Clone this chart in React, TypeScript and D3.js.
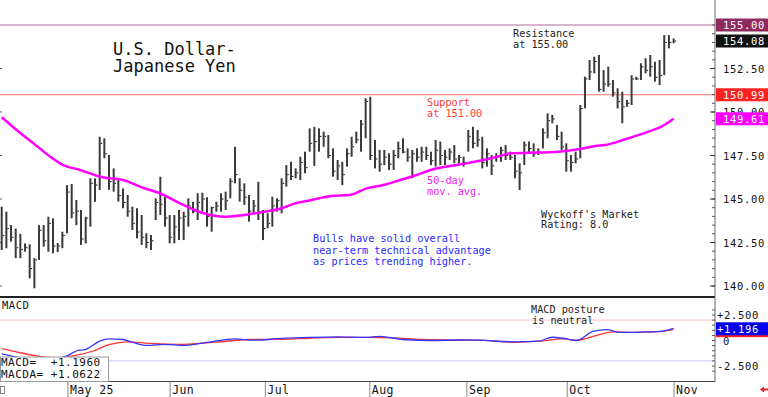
import React from "react";
import * as d3 from "d3";

// daily bars (0-based index)
const highs = [
  144.56, 144.27, 143.5, 143.3, 143.0, 142.45, 142.4, 141.6, 143.5, 143.5, 143.98, 143.89, 142.47, 143.12, 145.8,
  145.86, 144.94, 144.37, 143.98, 146.19, 146.19, 148.58, 148.49, 147.53, 146.76, 146.19, 145.61, 145.23, 144.56,
  144.47, 144.08, 143.03, 142.93, 145.04, 146.28, 145.13, 144.08, 144.08, 144.37,
  144.27, 145.04, 144.84, 145.33, 145.36, 145.1, 144.56, 144.84, 145.33, 145.42, 146.19, 148.0, 146.19, 145.9,
  145.23, 144.94, 145.99, 144.37, 144.18, 145.13, 145.04, 146.19, 146.95, 147.14, 146.76, 147.43, 147.72, 149.06,
  149.15, 149.06, 148.87, 148.68, 147.91, 147.24, 147.14, 147.91, 148.58,
  148.87, 149.54, 150.79, 150.88, 148.39, 147.82, 147.82, 147.63, 147.82, 148.3, 148.49, 147.91, 147.82, 147.91,
  148.0, 148.0, 147.72, 148.39, 148.3, 147.82, 147.91, 148.1, 147.53, 147.43, 148.97, 149.15, 148.97, 148.58,
  147.91, 147.53, 147.63, 148.0, 148.1, 147.72, 147.53, 147.05, 148.3,
  148.3, 148.2, 147.91, 149.06, 149.92, 149.83, 149.25, 148.87, 148.2, 147.53, 147.72, 150.4, 152.03, 152.99,
  153.18, 153.28, 152.41, 152.6, 151.84, 151.36, 151.17, 150.69, 152.12, 152.03, 152.8, 153.09, 153.28, 152.89,
  152.99, 154.42, 154.42, 154.23,
];
const lows = [
  142.07, 142.17, 142.55, 141.6, 141.6, 141.97, 140.44, 139.87, 141.5, 142.26, 141.97, 141.88, 141.95, 142.17, 143.03,
  143.89, 143.5, 142.36, 142.45, 143.41, 144.84, 145.52, 147.34, 145.52, 145.42, 144.85, 144.47, 143.98, 143.22,
  142.74, 142.36, 142.17, 142.07, 143.79, 144.08, 143.41, 142.45, 142.45, 142.64,
  142.64, 143.41, 144.18, 143.79, 144.27, 143.41, 143.12, 144.27, 144.27, 144.37, 145.04, 145.9, 144.85, 144.66,
  143.7, 144.18, 143.79, 142.64, 143.32, 143.41, 144.27, 144.18, 145.71, 146.09, 146.19, 146.09, 146.48, 147.72,
  146.9, 147.72, 148.0, 147.34, 146.28, 146.09, 145.8, 146.86, 147.43,
  148.2, 147.72, 148.49, 147.24, 146.76, 146.57, 146.95, 146.67, 146.67, 147.34, 147.63, 147.14, 146.19, 147.14,
  147.14, 147.24, 146.95, 146.86, 146.95, 146.95, 147.24, 147.05, 147.05, 146.86, 147.72, 147.91, 148.0, 146.76,
  146.86, 146.38, 147.14, 147.14, 147.24, 147.24, 146.19, 145.52, 146.95,
  147.63, 147.43, 147.53, 147.91, 148.49, 149.35, 148.39, 147.82, 146.57, 146.57, 147.05, 147.34, 150.21, 151.84,
  152.22, 151.17, 151.17, 151.45, 150.88, 150.21, 149.35, 150.3, 150.4, 151.84, 151.84, 152.22, 152.03, 151.74,
  151.55, 152.12, 153.66, 153.95,
];
const closes = [
  142.9, 143.3, 142.8, 142.2, 142.1, 142.2, 141.0, 141.5, 143.2, 142.6, 143.6, 142.3, 142.3, 142.9, 145.4,
  144.2, 144.3, 142.7, 143.9, 145.9, 145.8, 148.2, 147.6, 146.0, 145.9, 145.2, 144.8, 144.3, 143.6,
  143.1, 142.8, 142.5, 142.6, 144.8, 144.7, 143.9, 142.8, 143.4, 143.9,
  144.0, 144.6, 144.3, 144.8, 145.0, 144.0, 144.5, 144.6, 145.0, 144.9, 146.0, 146.4, 145.5, 145.1,
  144.3, 144.6, 144.2, 143.3, 143.6, 144.6, 144.9, 145.9, 146.4, 146.3, 146.5, 147.1, 146.8, 148.2,
  148.3, 148.6, 148.6, 147.5, 146.6, 146.9, 146.4, 147.6, 148.0,
  148.4, 149.3, 150.6, 147.5, 147.3, 147.0, 147.4, 147.0, 147.5, 147.9, 147.7, 147.4, 147.6, 147.4,
  147.7, 147.5, 147.2, 147.8, 147.5, 147.4, 147.7, 147.3, 147.4, 147.1, 148.6, 148.2, 148.4, 147.1,
  147.6, 146.9, 147.4, 147.8, 147.5, 147.4, 146.6, 146.5, 148.1,
  147.9, 147.6, 147.7, 148.8, 149.5, 149.6, 148.6, 148.0, 147.2, 147.1, 147.3, 150.2, 151.9, 152.3,
  152.9, 151.3, 151.6, 151.6, 151.1, 150.6, 150.3, 150.5, 151.9, 151.9, 152.6, 152.4, 152.6, 152.0,
  152.1, 154.0, 154.0, 154.08,
];

// 50-day moving average (bar index, value)
const maIdx = [0, 3.2, 6.8, 10.4, 13.2, 16.8, 21.1, 26.8, 29.6, 33.9, 38.2, 42.9, 47.9, 55, 60, 62.9, 65.7, 70.7,
  74.6, 78.2, 81.8, 85.4, 88.9, 92.5, 96.1, 99.7, 103.2, 106.8, 109, 113.2, 119.3, 123.6, 127.2, 129.3, 133.6,
  138.6, 141.4, 144];
const maVal = [149.7, 148.97, 148.2, 147.43, 146.95, 146.67, 146.28, 146.03, 145.71, 145.33, 144.75, 144.21, 143.98,
  144.21, 144.47, 144.75, 144.9, 145.17, 145.23, 145.61, 145.8, 146.09, 146.38, 146.71, 146.9, 147.05, 147.24,
  147.47, 147.63, 147.66, 147.72, 147.86, 148.05, 148.1, 148.43, 148.87, 149.16, 149.61];

// MACD (blue) and MACDA signal (red)
const macdIdx = [0, 4, 8, 11, 14, 16, 18, 21, 23, 26, 28, 31, 35, 39, 44, 50, 54, 60, 66, 72, 78, 81, 86, 92, 98,
  102, 110, 115, 118, 120.3, 123.3, 126.7, 129.7, 132.5, 136.8, 141, 144];
const macdVal = [-1.3, -1.7, -2.0, -1.9, -1.51, -1.03, -0.87, -0.07, 0.16, 0.1, -0.16, -0.48, -0.38, -0.48, -0.19,
  0.16, 0.03, 0.2, 0.3, 0.35, 0.3, 0.4, 0.1, 0.0, 0.05, 0.03, -0.13, -0.07, 0.32, 0.22, 0.0, 0.89, 1.06, 0.8,
  0.83, 0.89, 1.196];
const sigIdx = [0, 4, 8, 11, 14, 16.1, 19.6, 23.2, 26.9, 31.8, 38.9, 46, 53, 60, 66, 72, 78, 84, 90, 96, 102, 109.6,
  115.3, 120.3, 123.3, 127.6, 131, 135.3, 141, 144];
const sigVal = [-0.8, -1.2, -1.55, -1.7, -1.6, -1.44, -1.03, -0.38, -0.13, -0.29, -0.38, -0.16, 0.1, 0.12, 0.22,
  0.3, 0.3, 0.25, 0.1, 0.05, 0.03, -0.17, -0.07, 0.16, 0.03, 0.51, 0.84, 0.8, 0.87, 1.0622];

const priceLabels = [140, 142.5, 145, 147.5, 150, 152.5];
const macdLabels = [2.5, 0, -2.5];
const months = ["May 25", "Jun", "Jul", "Aug", "Sep", "Oct", "Nov"];
const monthIdx = [14.2, 36.1, 56.5, 78.9, 99.7, 121.2, 144.1];

const resistance = 155;
const support = 150.99;
const lastPrice = 154.08;
const lastMa = 149.61;
const lastMacd = 1.196;
const lastMacda = 1.0622;

const W = 768;
const H = 397;
const axisX = 715;
const mono = "'DejaVu Sans Mono', monospace";

export default function App() {
  const x = d3.scaleLinear().domain([0, 144]).range([1.7, 673.6]);
  const y = d3.scaleLinear().domain([140, 155]).range([286, 25]);
  const ym = d3.scaleLinear().domain([-2.5, 2.5]).range([366, 315]);

  const maLine = d3.line<number>()
    .x((d, i) => x(maIdx[i]))
    .y((d) => y(d))
    .curve(d3.curveMonotoneX);
  const macdLine = d3.line<number>()
    .x((d, i) => x(macdIdx[i]))
    .y((d) => ym(d))
    .curve(d3.curveMonotoneX);
  const sigLine = d3.line<number>()
    .x((d, i) => x(sigIdx[i]))
    .y((d) => ym(d))
    .curve(d3.curveMonotoneX);

  const minorTicks = d3.range(140, 155.01, 0.5);
  const macdMinor = d3.range(-3, 3.01, 0.5);

  const txt = (s: string, tx: number, ty: number, fill: string, size = 10.2, ls = 0) => (
    <text x={tx} y={ty} fill={fill} fontSize={size} fontFamily={mono} letterSpacing={ls}>{s}</text>
  );

  const box = (label: string, v: number, bg: string, sc: (n: number) => number, dy = 0) => (
    <g>
      <rect x={axisX + 1} y={sc(v) - 6.5 + dy} width={W - axisX - 1} height={13} fill={bg} />
      <text x={723} y={sc(v) + 4 + dy} fill="#fff" fontSize={10.5} fontFamily={mono} letterSpacing={0.7}>{label}</text>
    </g>
  );

  return (
    <svg width={W} height={H} style={{ position: "absolute", left: 0, top: 0, background: "#fff" }}>
      {/* reference lines */}
      <line x1={0} x2={axisX} y1={y(resistance)} y2={y(resistance)} stroke="#b06a98" strokeWidth={1} />
      <line x1={0} x2={axisX} y1={y(support)} y2={y(support)} stroke="#f27272" strokeWidth={1} />

      {/* left edge ticks */}
      {priceLabels.map((v) => (
        <line key={"lt" + v} x1={0} x2={2} y1={y(v)} y2={y(v)} stroke="#555" />
      ))}

      {/* OHLC bars */}
      {highs.map((h, i) => (
        <g key={"b" + i}>
          <line x1={x(i)} x2={x(i)} y1={y(h)} y2={y(lows[i])} stroke="#3a3a3a" strokeWidth={2} />
          <line x1={x(i) + 1} x2={x(i) + 2.5} y1={y(closes[i])} y2={y(closes[i])} stroke="#111" strokeWidth={1} />
        </g>
      ))}

      {/* 50-day MA */}
      <path d={maLine(maVal) || ""} fill="none" stroke="#ff00ff" strokeWidth={2.5} />

      {/* annotations */}
      {txt("U.S. Dollar-", 113, 55, "#111", 17)}
      {txt("Japanese Yen", 113, 72, "#111", 17)}
      {txt("Resistance", 513, 37, "#222")}
      {txt("at 155.00", 513, 47.5, "#222")}
      {txt("Support", 427, 106, "#ff3a3a")}
      {txt("at 151.00", 427, 117, "#ff3a3a")}
      {txt("50-day", 427, 184, "#ee22ee")}
      {txt("mov. avg.", 427, 195, "#ee22ee")}
      {txt("Wyckoff's Market", 541, 217.5, "#222")}
      {txt("Rating: 8.0", 541, 228, "#222")}
      {txt("Bulls have solid overall", 313, 242, "#2a2aff")}
      {txt("near-term technical advantage", 313, 253.5, "#2a2aff")}
      {txt("as prices trending higher.", 313, 264.5, "#2a2aff")}

      {/* panel separators */}
      <line x1={0} x2={axisX} y1={297} y2={297} stroke="#222" strokeWidth={2} />
      <line x1={0} x2={axisX} y1={381.5} y2={381.5} stroke="#444" strokeWidth={1} />
      <line x1={axisX} x2={axisX} y1={0} y2={382} stroke="#666" strokeWidth={1} />

      {/* price axis */}
      {minorTicks.map((v) => (
        <line key={"mt" + v} x1={axisX - 3} x2={axisX} y1={y(v)} y2={y(v)} stroke="#555" />
      ))}
      {priceLabels.map((v) => (
        <g key={"pl" + v}>
          <line x1={axisX - 5} x2={axisX} y1={y(v)} y2={y(v)} stroke="#333" />
          <text x={723} y={y(v) + 4} fill="#111" fontSize={10.5} fontFamily={mono} letterSpacing={0.7}>
            {v.toFixed(2)}
          </text>
        </g>
      ))}
      {box(resistance.toFixed(2), resistance, "#8e2a5c", y)}
      {box(lastPrice.toFixed(2), lastPrice, "#111", y)}
      {box(support.toFixed(2), support, "#ff2222", y)}
      {box(lastMa.toFixed(2), lastMa, "#ff00ff", y)}

      {/* MACD panel */}
      {txt("MACD", 2, 309, "#111", 10.5, 0.5)}
      <line x1={0} x2={axisX} y1={ym(2)} y2={ym(2)} stroke="#ffc4c4" strokeWidth={1} />
      <line x1={0} x2={axisX} y1={ym(-2)} y2={ym(-2)} stroke="#c4c4ff" strokeWidth={1} />
      <path d={sigLine(sigVal) || ""} fill="none" stroke="#ff3434" strokeWidth={1.3} />
      <path d={macdLine(macdVal) || ""} fill="none" stroke="#3434ff" strokeWidth={1.3} />
      {txt("MACD posture", 531, 313, "#222")}
      {txt("is neutral", 532, 323.5, "#222")}
      {macdMinor.map((v) => (
        <line key={"mm" + v} x1={axisX - 3} x2={axisX} y1={ym(v)} y2={ym(v)} stroke="#555" />
      ))}
      {macdLabels.map((v) => (
        <text key={"ml" + v} x={v === 0 ? 723 : 717} y={ym(v) + 4} fill="#111" fontSize={10.5} fontFamily={mono}
          letterSpacing={0.7}>
          {v === 0 ? "0" : (v > 0 ? "+" : "") + v.toFixed(3)}
        </text>
      ))}
      <rect x={axisX + 1} y={ym(lastMacda) - 5.5} width={W - axisX - 1} height={13} fill="#ff2222" />
      <rect x={axisX + 1} y={ym(lastMacd) - 6} width={W - axisX - 1} height={13} fill="#0000ee" />
      <text x={717} y={ym(lastMacd) + 4.5} fill="#fff" fontSize={10.5} fontFamily={mono} letterSpacing={0.7}>
        {"+" + lastMacd.toFixed(3)}
      </text>

      {/* MACD readout */}
      <rect x={0.5} y={357} width={108} height={24.5} fill="#fff" stroke="#999" />
      <text x={1} y={366} fill="#111" fontSize={11} fontFamily={mono} letterSpacing={0.5} xmlSpace="preserve">
        {"MACD=  +" + lastMacd.toFixed(4)}
      </text>
      <text x={1} y={378} fill="#111" fontSize={11} fontFamily={mono} letterSpacing={0.5}>
        {"MACDA= +" + lastMacda.toFixed(4)}
      </text>

      {/* month axis */}
      {months.map((m, i) => (
        <g key={m}>
          <line x1={x(monthIdx[i])} x2={x(monthIdx[i])} y1={382} y2={397} stroke="#888" />
          <text x={x(monthIdx[i]) + 2} y={393.5} fill="#111" fontSize={11.5} fontFamily={mono} letterSpacing={0.4}>
            {m}
          </text>
        </g>
      ))}
      <rect x={0.5} y={386.5} width={4} height={7} fill="none" stroke="#888" />
      <path d="M760,389.5 L764,386.5 L764,388.5 L768,388.5 L768,390.5 L764,390.5 L764,392.5 Z" fill="#ee2222" />
    </svg>
  );
}
